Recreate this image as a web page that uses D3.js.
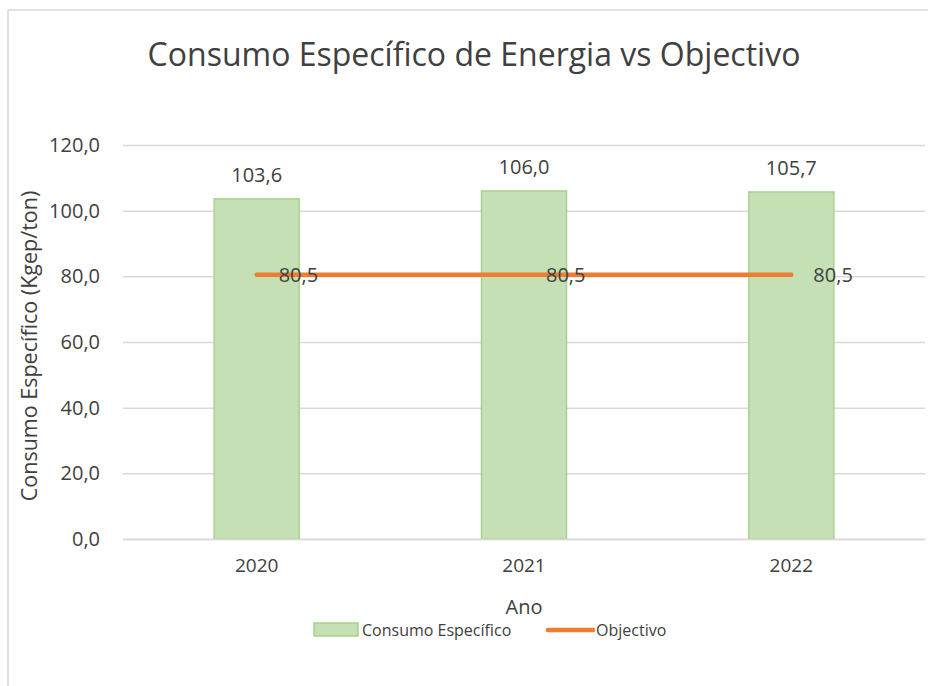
<!DOCTYPE html>
<html>
<head>
<meta charset="utf-8">
<script src="https://cdn.jsdelivr.net/npm/d3@7"></script>
<style>
  body { margin: 0; background: #fff; }
  text { font-family: "Open Sans", sans-serif; fill: #404040; }
</style>
</head>
<body>
<div class="chart"></div>
<script>
// 데이터
const years = ["2020", "2021", "2022"];
const consumo = [103.6, 106.0, 105.7];
const objectivo = [80.5, 80.5, 80.5];
const yTicks = [0, 20, 40, 60, 80, 100, 120];

const width = 928;
const height = 686;
// 플롯 영역
const [pt, pb, pl, pr] = [145, 539, 123, 925];

const barColor = '#C5E0B4';
const barStroke = '#A9D18E';
const lineColor = '#ED7D31';
const gridColor = '#D9D9D9';

const fmt = v => d3.format(".1f")(v).replace(".", ",");

const svg = d3.select('.chart')
  .append('svg')
  .attr('width', width)
  .attr('height', height);

// 차트 테두리
svg.append('rect')
  .attr('x', 8).attr('y', 10)
  .attr('width', 940).attr('height', 700)
  .attr('fill', 'none')
  .attr('stroke', '#D9D9D9')
  .attr('stroke-width', 1.5);

const x = d3.scaleBand()
  .domain(years)
  .range([pl, pr])
  .paddingInner(0.682)
  .paddingOuter(0.341);

const y = d3.scaleLinear()
  .domain([0, 120])
  .range([pb, pt]);

// 그리드
const yAxis = d3.axisLeft(y).tickValues(yTicks).tickFormat(fmt).tickSize(0).tickPadding(23);
svg.append('g')
  .attr('transform', `translate(${pl},0)`)
  .call(yAxis)
  .call(g => g.select('.domain').remove())
  .call(g => g.selectAll('.tick line').clone()
    .attr('x2', pr - pl)
    .attr('stroke', gridColor)
    .attr('stroke-width', 1.5))
  .call(g => g.selectAll('.tick text')
    .attr('font-size', 20)
    .attr('font-family', '"Open Sans", sans-serif')
    .attr('fill', '#404040'));

// 막대
svg.append('g')
  .selectAll('rect')
  .data(years)
  .join('rect')
  .attr('x', d => x(d))
  .attr('y', (d, i) => y(consumo[i]))
  .attr('width', x.bandwidth())
  .attr('height', (d, i) => y(0) - y(consumo[i]))
  .attr('fill', barColor)
  .attr('stroke', barStroke)
  .attr('stroke-width', 1.5);

// 막대 위 값
svg.append('g')
  .selectAll('text')
  .data(years)
  .join('text')
  .attr('x', d => x(d) + x.bandwidth() / 2)
  .attr('y', (d, i) => y(consumo[i]) - 17)
  .attr('text-anchor', 'middle')
  .attr('font-size', 20)
  .text((d, i) => fmt(consumo[i]));

// x축
const xAxis = d3.axisBottom(x).tickSize(0).tickPadding(20);
svg.append('g')
  .attr('transform', `translate(0,${pb})`)
  .call(xAxis)
  .call(g => g.select('.domain')
    .attr('stroke', gridColor)
    .attr('stroke-width', 1.5))
  .call(g => g.selectAll('.tick text')
    .attr('font-size', 19)
    .attr('font-family', '"Open Sans", sans-serif')
    .attr('fill', '#404040'));

// 목표 선
const cx = d => x(d) + x.bandwidth() / 2;
const line = d3.line()
  .x(d => cx(d))
  .y((d, i) => y(objectivo[i]));

svg.append('path')
  .datum(years)
  .attr('d', line)
  .attr('fill', 'none')
  .attr('stroke', lineColor)
  .attr('stroke-width', 4.5)
  .attr('stroke-linecap', 'round');

svg.append('g')
  .selectAll('text')
  .data(years)
  .join('text')
  .attr('x', d => cx(d) + 22)
  .attr('y', (d, i) => y(objectivo[i]))
  .attr('dy', '0.35em')
  .attr('font-size', 20)
  .text((d, i) => fmt(objectivo[i]));

// 제목
svg.append('text')
  .attr('x', 474)
  .attr('y', 66)
  .attr('text-anchor', 'middle')
  .attr('font-size', 32)
  .text('Consumo Específico de Energia vs Objectivo');

// 축 제목
svg.append('text')
  .attr('transform', `translate(37,${(pt + pb) / 2 + 4}) rotate(-90)`)
  .attr('text-anchor', 'middle')
  .attr('font-size', 21.5)
  .text('Consumo Específico (Kgep/ton)');

svg.append('text')
  .attr('x', cx('2021'))
  .attr('y', 614)
  .attr('text-anchor', 'middle')
  .attr('font-size', 20)
  .text('Ano');

// 범례
const legend = svg.append('g');
legend.append('rect')
  .attr('x', 314).attr('y', 623)
  .attr('width', 44).attr('height', 13)
  .attr('fill', barColor)
  .attr('stroke', barStroke)
  .attr('stroke-width', 1.5);
legend.append('text')
  .attr('x', 362).attr('y', 630)
  .attr('dy', '0.35em')
  .attr('font-size', 16)
  .text('Consumo Específico');
legend.append('line')
  .attr('x1', 548).attr('x2', 593)
  .attr('y1', 630).attr('y2', 630)
  .attr('stroke', lineColor)
  .attr('stroke-width', 4.5)
  .attr('stroke-linecap', 'round');
legend.append('text')
  .attr('x', 596).attr('y', 630)
  .attr('dy', '0.35em')
  .attr('font-size', 16)
  .text('Objectivo');
</script>
</body>
</html>
